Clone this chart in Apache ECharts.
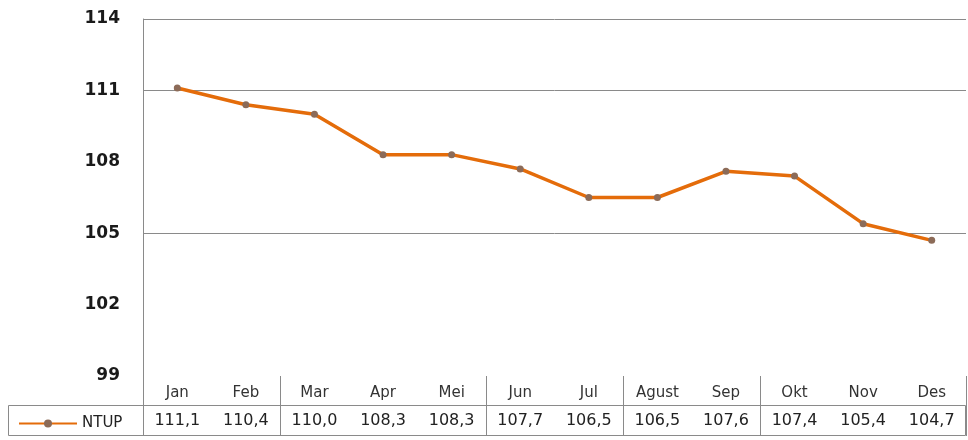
<!DOCTYPE html>
<html>
<head>
<meta charset="utf-8">
<script src="https://cdn.jsdelivr.net/npm/echarts@6/dist/echarts.min.js"></script>
<style>
  html, body { margin: 0; padding: 0; background: #fff; }
  #main { width: 968px; height: 440px; }
</style>
</head>
<body>
<div id="main"></div>
<script>
const months = ["Jan", "Feb", "Mar", "Apr", "Mei", "Jun", "Jul", "Agust", "Sep", "Okt", "Nov", "Des"];
const ntup = [111.1, 110.4, 110.0, 108.3, 108.3, 107.7, 106.5, 106.5, 107.6, 107.4, 105.4, 104.7];
const seriesName = "NTUP";

const chart = echarts.init(document.getElementById("main"));
const gray = "#8a8a8a";
// table dividers as seen in the picture (left boundary of these categories)
const dividerAt = [0, 2, 5, 7, 9];

const option = {
  animation: false,
  grid: { left: 143, right: 2, top: 19, bottom: 64 },
  legend: {
    data: [seriesName],
    left: 13,
    top: 411,
    itemWidth: 58,
    itemHeight: 10,
    itemGap: 4,
    textStyle: { fontFamily: "DejaVu Sans", fontSize: 15, color: "#222" }
  },
  xAxis: [
    {
      type: "category",
      data: months,
      boundaryGap: true,
      axisLine: { show: false },
      axisTick: {
        show: true,
        length: 60,
        interval: function (index) { return dividerAt.indexOf(index) >= 0; },
        lineStyle: { color: gray, width: 1 }
      },
      axisLabel: {
        interval: 0,
        margin: 10,
        fontFamily: "DejaVu Sans",
        fontSize: 15,
        color: "#333"
      },
      splitLine: { show: false }
    },
    {
      type: "category",
      data: ntup.map(v => v.toFixed(1).replace(".", ",")),
      position: "bottom",
      offset: 29,
      boundaryGap: true,
      axisLine: { show: false },
      axisTick: { show: false },
      axisLabel: {
        interval: 0,
        margin: 8,
        fontFamily: "DejaVu Sans",
        fontSize: 16,
        color: "#222"
      }
    }
  ],
  yAxis: {
    type: "value",
    min: 99,
    max: 114,
    interval: 3,
    axisLine: { show: true, lineStyle: { color: gray, width: 1 } },
    axisTick: { show: false },
    axisLabel: {
      margin: 23,
      fontFamily: "DejaVu Sans",
      fontWeight: "bold",
      fontSize: 17,
      color: "#1a1a1a"
    },
    splitLine: {
      show: true,
      lineStyle: {
        color: ["rgba(0,0,0,0)", "rgba(0,0,0,0)", gray, "rgba(0,0,0,0)", gray, gray],
        width: 1
      }
    }
  },
  graphic: [
    {
      type: "rect",
      silent: true,
      shape: { x: 8.5, y: 405.5, width: 957, height: 30 },
      style: { fill: "none", stroke: gray, lineWidth: 1 }
    }
  ],
  series: [
    {
      name: seriesName,
      type: "line",
      data: ntup,
      symbol: "circle",
      symbolSize: 7,
      lineStyle: { color: "#E46C0A", width: 3.5 },
      itemStyle: { color: "#8C6B58" },
      color: "#E46C0A"
    }
  ]
};

chart.setOption(option);
window.addEventListener("resize", function () {
  chart.resize();
});
</script>
</body>
</html>
